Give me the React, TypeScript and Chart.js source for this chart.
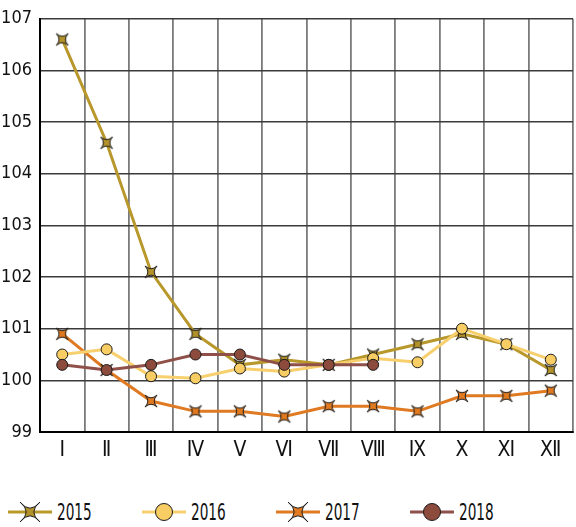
import React, { useEffect, useRef } from 'react';
import { Chart, registerables } from 'chart.js';

Chart.register(...registerables);

const months = ['Ⅰ', 'Ⅱ', 'Ⅲ', 'Ⅳ', 'Ⅴ', 'Ⅵ', 'Ⅶ', 'Ⅷ', 'Ⅸ', 'Ⅹ', 'Ⅺ', 'Ⅻ'];
const seriesNames = ['2015', '2016', '2017', '2018'];
const v2015 = [106.6, 104.6, 102.1, 100.9, 100.3, 100.4, 100.3, 100.5, 100.7, 100.9, 100.7, 100.2];
const v2016 = [100.5, 100.6, 100.08, 100.04, 100.23, 100.17, 100.3, 100.43, 100.35, 101.0, 100.7, 100.4];
const v2017 = [100.9, 100.2, 99.6, 99.4, 99.4, 99.3, 99.5, 99.5, 99.4, 99.7, 99.7, 99.8];
const v2018 = [100.3, 100.2, 100.3, 100.5, 100.5, 100.3, 100.3, 100.3, null, null, null, null];
const yMin = 99;
const yMax = 107;
const yStep = 1;

const lineColors = ['#B8972B', '#F7CF6C', '#E07A22', '#8E5048'];
const fillColors = ['#B3922A', '#F8CD64', '#E27A1F', '#8C4B3D'];
const markers = ['star', 'circle', 'star', 'circle'];

const FONT = "'Liberation Sans Narrow', 'DejaVu Sans Condensed', 'Roboto Condensed', sans-serif";

function starPath(ctx: CanvasRenderingContext2D | null, cx: number, cy: number, R: number, m: number) {
  const k = R - 2 * m;
  const pts: Array<[number, number, number, number]> = [
    [cx + R, cy - R, cx, cy + k],
    [cx + R, cy + R, cx - k, cy],
    [cx - R, cy + R, cx, cy - k],
    [cx - R, cy - R, cx + k, cy],
  ];
  let d = `M ${cx - R} ${cy - R}`;
  if (ctx) ctx.moveTo(cx - R, cy - R);
  for (const [x, y, qx, qy] of pts) {
    if (ctx) ctx.quadraticCurveTo(qx, qy, x, y);
    d += ` Q ${qx} ${qy} ${x} ${y}`;
  }
  d += ' Z';
  return d;
}

function makeStarCanvas(R: number, m: number, fill: string) {
  const size = Math.ceil(2 * R + 4);
  const c = document.createElement('canvas');
  c.width = size;
  c.height = size;
  const ctx = c.getContext('2d')!;
  ctx.beginPath();
  starPath(ctx, size / 2, size / 2, R, m);
  ctx.closePath();
  ctx.fillStyle = fill;
  ctx.fill();
  ctx.lineWidth = 1;
  ctx.strokeStyle = '#1a1a1a';
  ctx.stroke();
  return c;
}

function LegendIcon({ i }: { i: number }) {
  const w = 44;
  const h = 24;
  const cx = 22;
  const cy = 12;
  return (
    <svg width={w} height={h} style={{ display: 'block' }}>
      <line x1={0} y1={cy} x2={w} y2={cy} stroke={lineColors[i]} strokeWidth={3} />
      {markers[i] === 'star' ? (
        <path d={starPath(null, cx, cy, 10, 3.8)} fill={fillColors[i]} stroke="#1a1a1a" strokeWidth={1} />
      ) : (
        <circle cx={cx} cy={cy} r={8.5} fill={fillColors[i]} stroke="#1a1a1a" strokeWidth={1} />
      )}
    </svg>
  );
}

export default function App() {
  const ref = useRef<HTMLCanvasElement | null>(null);

  useEffect(() => {
    document.body.style.margin = '0';
    const canvas = ref.current;
    if (!canvas) return;
    const values = [v2015, v2016, v2017, v2018];
    const orders = [4, 2, 3, 1];
    const datasets = seriesNames.map((name, i) => ({
      label: name,
      data: values[i],
      borderColor: lineColors[i],
      backgroundColor: fillColors[i],
      borderWidth: 3,
      tension: 0,
      order: orders[i],
      spanGaps: false,
      pointStyle: markers[i] === 'star' ? makeStarCanvas(6, 3.2, fillColors[i]) : 'circle',
      pointRadius: markers[i] === 'star' ? 6 : 5.5,
      pointBorderColor: '#1a1a1a',
      pointBorderWidth: 1,
      pointBackgroundColor: fillColors[i],
    }));

    const chart = new Chart(canvas, {
      type: 'line',
      data: { labels: months, datasets },
      options: {
        animation: false,
        responsive: false,
        events: [],
        layout: { padding: { top: 17, left: 0, right: 0, bottom: 0 } },
        plugins: {
          legend: { display: false },
          tooltip: { enabled: false },
        },
        scales: {
          x: {
            offset: true,
            grid: { offset: true, color: '#7a7a7a', lineWidth: 1.8, drawTicks: false },
            border: { color: '#000', width: 2 },
            ticks: { color: '#111', font: { family: FONT, size: 21 }, padding: 6, maxRotation: 0, autoSkip: false },
            afterFit: (s: any) => { s.height = 38; },
          },
          y: {
            min: yMin,
            max: yMax,
            grid: { color: '#3a3a3a', lineWidth: 1.4, drawTicks: false },
            border: { color: '#000', width: 2 },
            ticks: { stepSize: yStep, color: '#111', font: { family: FONT, size: 18 }, padding: 8 },
            afterFit: (s: any) => { s.width = 40; },
          },
        },
      },
    });
    return () => chart.destroy();
  }, []);

  const legendX = [8, 142, 276, 410];

  return (
    <div style={{ position: 'fixed', left: 0, top: 0, width: 576, height: 527, overflow: 'hidden', background: '#fff' }}>
      <canvas ref={ref} width={580} height={470} style={{ display: 'block', width: 580, height: 470 }} />
      {seriesNames.map((name, i) => (
        <div
          key={name}
          style={{ position: 'absolute', left: legendX[i], top: 500, height: 24, display: 'flex', alignItems: 'center' }}
        >
          <LegendIcon i={i} />
          <span
            style={{
              marginLeft: 5,
              fontFamily: FONT,
              fontSize: 23,
              lineHeight: '24px',
              color: '#111',
              display: 'inline-block',
              transform: 'scaleX(0.66)',
              transformOrigin: 'left center',
            }}
          >
            {name}
          </span>
        </div>
      ))}
    </div>
  );
}
